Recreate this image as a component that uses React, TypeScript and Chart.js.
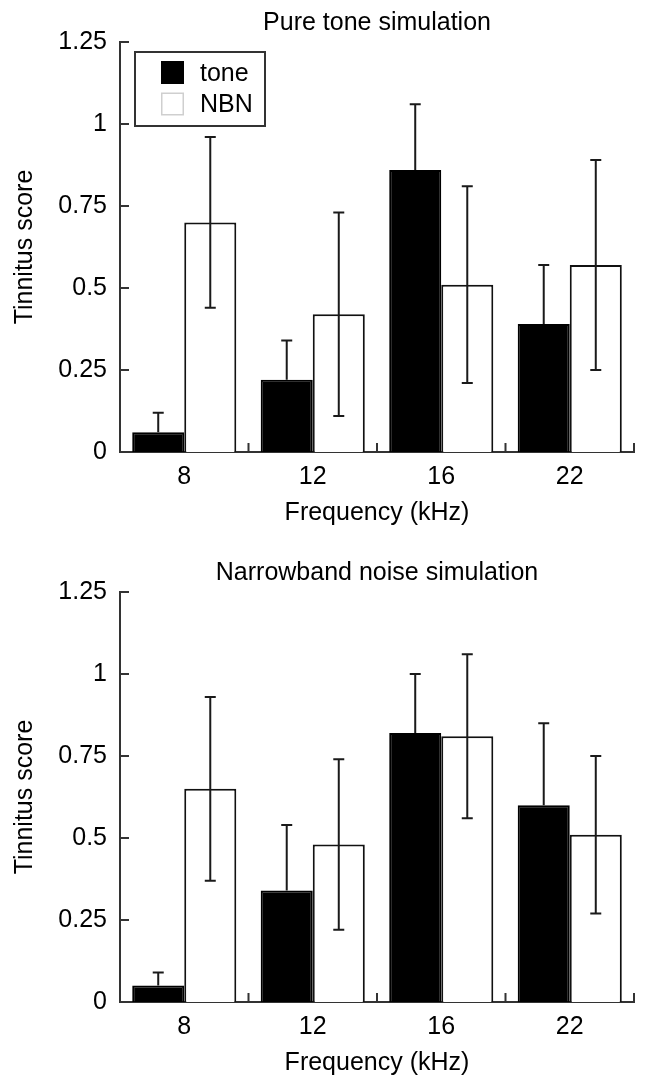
import React, { useEffect, useRef } from 'react';
import { Chart, registerables } from 'chart.js';

Chart.register(...registerables);

const categories = ['8', '12', '16', '22'];
const seriesLabels = ['tone', 'NBN'];
const yTickValues = [0, 0.25, 0.5, 0.75, 1, 1.25];

// Pure tone simulation
const pureToneMean = [0.06, 0.22, 0.86, 0.39];
const pureToneErr = [0.06, 0.12, 0.2, 0.18];
const pureNbnMean = [0.7, 0.42, 0.51, 0.57];
const pureNbnErr = [0.26, 0.31, 0.3, 0.32];

// Narrowband noise simulation
const nbnToneMean = [0.05, 0.34, 0.82, 0.6];
const nbnToneErr = [0.04, 0.2, 0.18, 0.25];
const nbnNbnMean = [0.65, 0.48, 0.81, 0.51];
const nbnNbnErr = [0.28, 0.26, 0.25, 0.24];

const FONT = "'Liberation Sans', Arial, Helvetica, sans-serif";
Chart.defaults.font.family = FONT;
Chart.defaults.color = '#000';

const errorBarPlugin = {
  id: 'errorBars',
  afterDatasetsDraw(chart: any) {
    const { ctx } = chart;
    const y = chart.scales.y;
    ctx.save();
    ctx.strokeStyle = '#1a1a1a';
    ctx.lineWidth = 2;
    chart.data.datasets.forEach((ds: any, i: number) => {
      const meta = chart.getDatasetMeta(i);
      (ds.errors || []).forEach((e: number, j: number) => {
        const el = meta.data[j];
        if (!el) return;
        const v = ds.data[j];
        const x = el.x;
        const cap = 5.5;
        const yt = y.getPixelForValue(v + e);
        const yb = ds.errorBelow ? y.getPixelForValue(Math.max(0, v - e)) : y.getPixelForValue(v);
        ctx.beginPath();
        ctx.moveTo(x, yt);
        ctx.lineTo(x, yb);
        ctx.moveTo(x - cap, yt);
        ctx.lineTo(x + cap, yt);
        if (ds.errorBelow) {
          ctx.moveTo(x - cap, yb);
          ctx.lineTo(x + cap, yb);
        }
        ctx.stroke();
      });
    });
    ctx.restore();
  },
};

const innerTicksPlugin = {
  id: 'innerTicks',
  afterDraw(chart: any) {
    const { ctx, chartArea } = chart;
    const x = chart.scales.x;
    const y = chart.scales.y;
    ctx.save();
    ctx.strokeStyle = '#333';
    ctx.lineWidth = 2;
    ctx.beginPath();
    yTickValues.forEach((v) => {
      const py = y.getPixelForValue(v);
      ctx.moveTo(chartArea.left, py);
      ctx.lineTo(chartArea.left + 9, py);
    });
    const half = (x.getPixelForValue(1) - x.getPixelForValue(0)) / 2;
    categories.forEach((_, i) => {
      const px = x.getPixelForValue(i) + half;
      ctx.moveTo(px, chartArea.bottom);
      ctx.lineTo(px, chartArea.bottom - 9);
    });
    ctx.stroke();
    ctx.restore();
  },
};

const boxedLegendPlugin = {
  id: 'boxedLegend',
  afterDraw(chart: any, _args: any, opts: any) {
    if (!opts || !opts.display) return;
    const { ctx, chartArea } = chart;
    const bx = chartArea.left + 15;
    const by = chartArea.top + 10;
    ctx.save();
    ctx.fillStyle = '#fff';
    ctx.fillRect(bx, by, 130, 74);
    ctx.strokeStyle = '#333';
    ctx.lineWidth = 2;
    ctx.strokeRect(bx, by, 130, 74);
    const rows = [chartArea.top + 19, chartArea.top + 50.5];
    chart.data.datasets.forEach((ds: any, i: number) => {
      const sy = rows[i];
      ctx.fillStyle = ds.backgroundColor;
      ctx.fillRect(bx + 26, sy, 23, 23);
      if (ds.backgroundColor === '#ffffff') {
        ctx.strokeStyle = '#cfcfcf';
        ctx.lineWidth = 1.5;
        ctx.strokeRect(bx + 26.75, sy + 0.75, 21.5, 21.5);
      }
      ctx.fillStyle = '#000';
      ctx.font = `25px ${FONT}`;
      ctx.textBaseline = 'middle';
      ctx.textAlign = 'left';
      ctx.fillText(ds.label, bx + 65, sy + 13);
    });
    ctx.restore();
  },
};

type PanelProps = {
  title: string;
  tone: number[];
  toneErr: number[];
  nbn: number[];
  nbnErr: number[];
  showLegend: boolean;
};

function Panel({ title, tone, toneErr, nbn, nbnErr, showLegend }: PanelProps) {
  const ref = useRef<HTMLCanvasElement | null>(null);
  useEffect(() => {
    if (!ref.current) return;
    const chart = new Chart(ref.current, {
      type: 'bar',
      data: {
        labels: categories,
        datasets: [
          {
            label: seriesLabels[0],
            data: tone,
            errors: toneErr,
            errorBelow: false,
            backgroundColor: '#000000',
            borderColor: '#000000',
            borderWidth: 2,
          } as any,
          {
            label: seriesLabels[1],
            data: nbn,
            errors: nbnErr,
            errorBelow: true,
            backgroundColor: '#ffffff',
            borderColor: '#111111',
            borderWidth: 2,
          } as any,
        ],
      },
      options: {
        responsive: false,
        animation: false,
        devicePixelRatio: 1,
        layout: { padding: { left: 0, right: 11, top: 0, bottom: 0 } },
        datasets: { bar: { categoryPercentage: 0.81, barPercentage: 1.0 } },
        plugins: {
          legend: { display: false },
          tooltip: { enabled: false },
          title: {
            display: true,
            text: title,
            fullSize: false,
            color: '#000',
            font: { size: 25, weight: 'normal', family: FONT, lineHeight: 1.2 },
            padding: { top: 8.5, bottom: 3.5 },
          },
          boxedLegend: { display: showLegend },
        } as any,
        scales: {
          x: {
            type: 'category',
            offset: true,
            grid: { display: false, drawTicks: false, offset: true },
            border: { display: true, color: '#333', width: 2 },
            ticks: { color: '#000', font: { size: 25, family: FONT }, padding: 10, maxRotation: 0 },
            title: {
              display: true,
              text: 'Frequency (kHz)',
              color: '#000',
              font: { size: 25, family: FONT, lineHeight: 1.2 },
              padding: { top: 0, bottom: 22 },
            },
            afterFit: (s: any) => {
              s.height = 98;
            },
          },
          y: {
            min: 0,
            max: 1.25,
            grid: { display: false, drawTicks: false },
            border: { display: true, color: '#333', width: 2 },
            afterBuildTicks: (s: any) => {
              s.ticks = yTickValues.map((v) => ({ value: v }));
            },
            ticks: {
              color: '#000',
              font: { size: 25, family: FONT },
              padding: 13,
              callback: (v: any) => String(v),
            },
            title: {
              display: true,
              text: 'Tinnitus score',
              color: '#000',
              font: { size: 25, family: FONT, lineHeight: 1.2 },
              padding: { top: 10.5, bottom: 0 },
            },
            afterFit: (s: any) => {
              s.width = 120;
            },
          },
        },
      } as any,
      plugins: [errorBarPlugin, innerTicksPlugin, boxedLegendPlugin],
    });
    return () => chart.destroy();
  }, [title, tone, toneErr, nbn, nbnErr, showLegend]);
  return <canvas ref={ref} width={645} height={550} style={{ display: 'block' }} />;
}

export default function App() {
  return (
    <div
      style={{
        position: 'fixed',
        left: 0,
        top: 0,
        width: 645,
        height: 1075,
        overflow: 'hidden',
        background: '#fff',
      }}
    >
      <div style={{ position: 'absolute', left: 0, top: 0 }}>
        <Panel
          title="Pure tone simulation"
          tone={pureToneMean}
          toneErr={pureToneErr}
          nbn={pureNbnMean}
          nbnErr={pureNbnErr}
          showLegend={true}
        />
      </div>
      <div style={{ position: 'absolute', left: 0, top: 550 }}>
        <Panel
          title="Narrowband noise simulation"
          tone={nbnToneMean}
          toneErr={nbnToneErr}
          nbn={nbnNbnMean}
          nbnErr={nbnNbnErr}
          showLegend={false}
        />
      </div>
    </div>
  );
}
